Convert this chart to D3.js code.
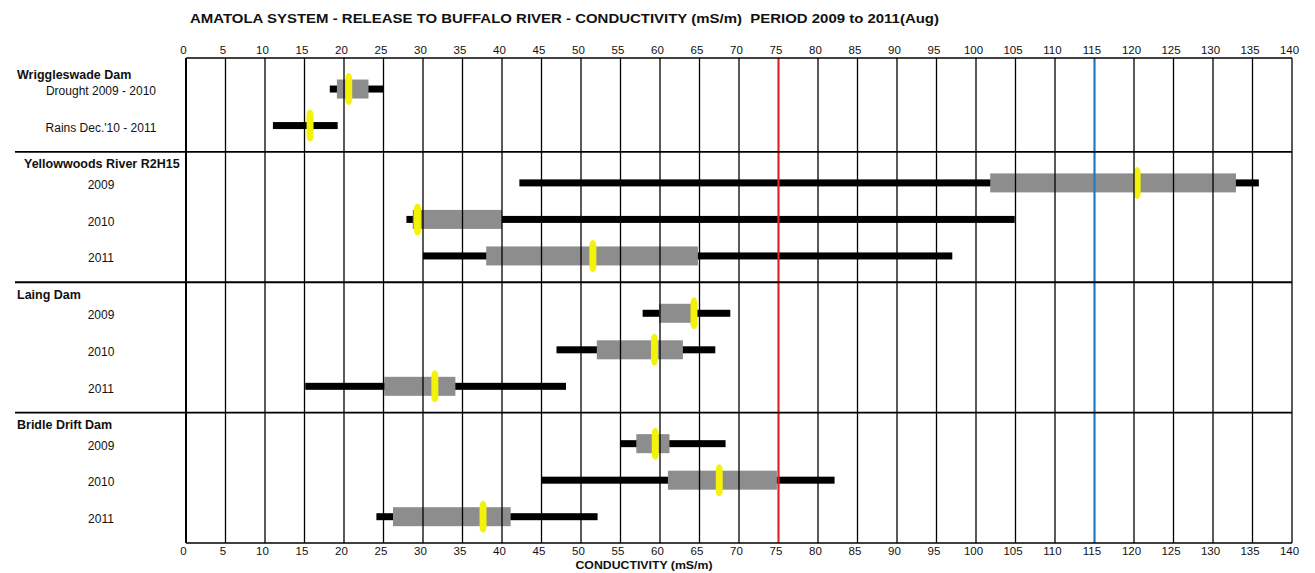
<!DOCTYPE html>
<html>
<head>
<meta charset="utf-8">
<script src="https://cdn.jsdelivr.net/npm/d3@7"></script>
<style>
  body { margin: 0; background: #fff; }
  svg text { font-family: "Liberation Sans", Arial, sans-serif; fill: #111; }
  .axis path { display: none; }
  .axis line { display: none; }
  .axis text { font-size: 11.5px; }
  .group-label { font-size: 12.5px; font-weight: bold; }
  .row-label { font-size: 12px; }
  .title { white-space: pre; }
</style>
</head>
<body>
<svg id="chart"></svg>
<script>
// ---- data ----
const groups = ['Wriggleswade Dam', 'Yellowwoods River R2H15', 'Laing Dam', 'Bridle Drift Dam'];
const rowLabels = ['Drought 2009 - 2010', "Rains Dec.'10 - 2011",
  '2009', '2010', '2011',
  '2009', '2010', '2011',
  '2009', '2010', '2011'];
const rowGroup = [0, 0, 1, 1, 1, 2, 2, 2, 3, 3, 3];
const minVals    = [18.2, 11.0, 42.2, 27.9, 30.0, 57.8, 46.9, 15.1, 55.0, 45.0, 24.1];
const lowVals    = [19.1, null, 101.8, 28.7, 38.0, 59.9, 52.0, 25.1, 57.0, 61.0, 26.2];
const medianVals = [20.6, 15.7, 120.4, 29.3, 51.5, 64.3, 59.3, 31.5, 59.4, 67.5, 37.6];
const highVals   = [23.1, null, 132.9, 40.0, 64.8, 64.0, 62.9, 34.1, 61.2, 74.8, 41.1];
const maxVals    = [25.0, 19.2, 135.8, 104.9, 97.0, 68.9, 67.0, 48.1, 68.3, 82.1, 52.1];
const xTicks = d3.range(0, 141, 5);
const limitLines = [75, 115];
const limitColors = ['#e3232a', '#1a7cc6'];

const title = 'AMATOLA SYSTEM - RELEASE TO BUFFALO RIVER - CONDUCTIVITY (mS/m)  PERIOD 2009 to 2011(Aug)';
const xLabel = 'CONDUCTIVITY (mS/m)';

class RangeChart {

  constructor(_config) {
    this.config = {
      parentElement: _config.parentElement,
      containerWidth: _config.containerWidth || 1315,
      containerHeight: _config.containerHeight || 573,
      margin: _config.margin || { top: 58, right: 23, bottom: 30, left: 186 }
    };
    this.initVis();
  }

  initVis() {
    let vis = this;

    vis.width = vis.config.containerWidth - vis.config.margin.left - vis.config.margin.right;
    vis.height = vis.config.containerHeight - vis.config.margin.top - vis.config.margin.bottom;

    // value axis stops at 140, frame lines run a little past it
    vis.xScale = d3.scaleLinear()
      .domain([0, 140])
      .range([0, 1106]);

    // vertical layout in "row units": header pad, one unit per row, bottom pad
    vis.topPad = 0.85;
    vis.bottomPad = 0.72;
    let cursor = 0;
    vis.groupTops = [];
    vis.rowPos = [];
    groups.forEach((g, gi) => {
      vis.groupTops.push(cursor);
      const n = rowGroup.filter(r => r === gi).length;
      let k = 0;
      rowGroup.forEach((r, ri) => {
        if (r === gi) { vis.rowPos[ri] = cursor + vis.topPad + k; k++; }
      });
      cursor += vis.topPad + (n - 1) + vis.bottomPad;
    });
    vis.totalUnits = cursor;

    vis.yScale = d3.scaleLinear()
      .domain([0, vis.totalUnits])
      .range([0, vis.height]);

    vis.svg = d3.select(vis.config.parentElement)
      .attr('width', vis.config.containerWidth)
      .attr('height', vis.config.containerHeight);

    vis.chart = vis.svg.append('g')
      .attr('transform', `translate(${vis.config.margin.left},${vis.config.margin.top})`);

    vis.xAxisTop = d3.axisTop(vis.xScale).tickValues(xTicks).tickSize(0).tickPadding(4);
    vis.xAxisBottom = d3.axisBottom(vis.xScale).tickValues(xTicks).tickSize(0).tickPadding(4);

    vis.marks = vis.chart.append('g');
    vis.grid = vis.chart.append('g');
  }

  renderVis() {
    let vis = this;
    const lineEnd = vis.width;
    const barH = 7, boxH = 19, medW = 7, medH = 32;
    const idx = rowLabels.map((d, i) => i);

    // black min-max ranges
    vis.marks.selectAll('.range')
      .data(idx)
      .join('rect')
      .attr('class', 'range')
      .attr('x', i => vis.xScale(minVals[i]))
      .attr('width', i => vis.xScale(maxVals[i]) - vis.xScale(minVals[i]))
      .attr('y', i => vis.yScale(vis.rowPos[i]) - barH / 2)
      .attr('height', barH)
      .attr('fill', '#000');

    // grey boxes
    vis.marks.selectAll('.box')
      .data(idx.filter(i => lowVals[i] !== null))
      .join('rect')
      .attr('class', 'box')
      .attr('x', i => vis.xScale(lowVals[i]))
      .attr('width', i => vis.xScale(highVals[i]) - vis.xScale(lowVals[i]))
      .attr('y', i => vis.yScale(vis.rowPos[i]) - boxH / 2)
      .attr('height', boxH)
      .attr('fill', '#8d8d8d');

    // yellow medians
    vis.marks.selectAll('.median')
      .data(idx)
      .join('rect')
      .attr('class', 'median')
      .attr('x', i => vis.xScale(medianVals[i]) - medW / 2)
      .attr('width', medW)
      .attr('y', i => vis.yScale(vis.rowPos[i]) - medH / 2)
      .attr('height', medH)
      .attr('rx', medW / 2)
      .attr('ry', 6)
      .attr('fill', '#f2f20a');

    // vertical grid lines (on top of the boxes, as in the original)
    vis.grid.selectAll('.vline')
      .data(xTicks.filter(t => !limitLines.includes(t)))
      .join('line')
      .attr('class', 'vline')
      .attr('x1', d => vis.xScale(d)).attr('x2', d => vis.xScale(d))
      .attr('y1', 0).attr('y2', vis.height)
      .attr('stroke', '#000')
      .attr('stroke-width', d => d === 0 ? 2 : 1.3);

    vis.grid.selectAll('.limit')
      .data(limitLines)
      .join('line')
      .attr('class', 'limit')
      .attr('x1', d => vis.xScale(d)).attr('x2', d => vis.xScale(d))
      .attr('y1', 0).attr('y2', vis.height)
      .attr('stroke', (d, i) => limitColors[i])
      .attr('stroke-width', 2.2);

    // top and bottom frame lines
    vis.grid.append('line')
      .attr('x1', 0).attr('x2', lineEnd)
      .attr('y1', 0).attr('y2', 0)
      .attr('stroke', '#000').attr('stroke-width', 1.6);
    vis.grid.append('line')
      .attr('x1', 0).attr('x2', lineEnd)
      .attr('y1', vis.height).attr('y2', vis.height)
      .attr('stroke', '#000').attr('stroke-width', 1.6);

    // group separators across the whole width
    vis.grid.selectAll('.sep')
      .data(vis.groupTops.slice(1))
      .join('line')
      .attr('class', 'sep')
      .attr('x1', 15 - vis.config.margin.left).attr('x2', lineEnd)
      .attr('y1', d => vis.yScale(d)).attr('y2', d => vis.yScale(d))
      .attr('stroke', '#000').attr('stroke-width', 1.8);

    // tick labels, sitting a little left of their lines
    vis.chart.append('g')
      .attr('class', 'axis x-axis-top')
      .call(vis.xAxisTop)
      .selectAll('text').attr('dx', -3);

    vis.chart.append('g')
      .attr('class', 'axis x-axis-bottom')
      .attr('transform', `translate(0,${vis.height})`)
      .call(vis.xAxisBottom)
      .selectAll('text').attr('dx', -3);

    // group labels (the Yellowwoods one is indented in the original)
    vis.chart.selectAll('.group-label')
      .data(groups)
      .join('text')
      .attr('class', 'group-label')
      .attr('x', (d, i) => (i === 1 ? 24 : 17) - vis.config.margin.left)
      .attr('y', (d, i) => vis.yScale(vis.groupTops[i]) + (i === 0 ? 17 : 12))
      .attr('dy', '0.35em')
      .text(d => d);

    // row labels
    vis.chart.selectAll('.row-label')
      .data(rowLabels)
      .join('text')
      .attr('class', 'row-label')
      .attr('x', 101 - vis.config.margin.left)
      .attr('y', (d, i) => vis.yScale(vis.rowPos[i]) + 2)
      .attr('dy', '0.35em')
      .attr('text-anchor', 'middle')
      .text(d => d);

    // title and axis title
    vis.svg.append('text')
      .attr('class', 'title')
      .attr('x', 190)
      .attr('y', 23)
      .attr('textLength', 749)
      .attr('lengthAdjust', 'spacingAndGlyphs')
      .style('font-size', '13.5px')
      .style('font-weight', 'bold')
      .text(title);

    vis.chart.append('text')
      .attr('x', 644 - vis.config.margin.left)
      .attr('y', vis.height + 26)
      .attr('text-anchor', 'middle')
      .attr('textLength', 137)
      .attr('lengthAdjust', 'spacingAndGlyphs')
      .style('font-size', '10.5px')
      .style('font-weight', 'bold')
      .text(xLabel);
  }
}

const chart = new RangeChart({ parentElement: '#chart' });
chart.renderVis();
</script>
</body>
</html>
